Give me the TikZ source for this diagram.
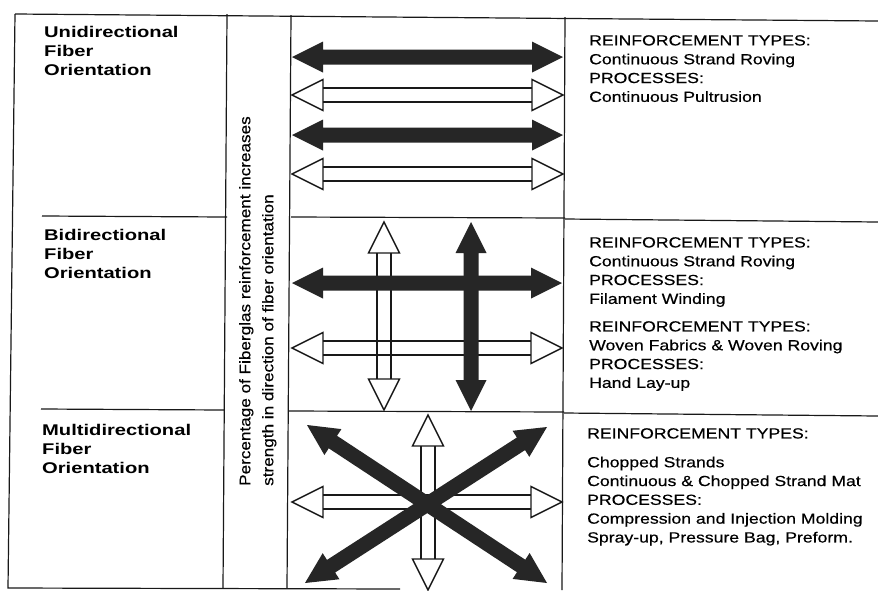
\documentclass[tikz,border=0pt]{standalone}
\usepackage{fontspec}
\setmainfont{Liberation Sans}
\newfontfamily\headfont[FakeStretch=1.3]{Liberation Sans}
\newfontfamily\infofont[FakeStretch=1.2,FakeBold=0.4]{Liberation Sans}
\newfontfamily\sidefont[FakeStretch=1.12,FakeBold=0.4]{Liberation Sans}
\usetikzlibrary{calc}

% double headed arrow, filled
\newcommand{\solidarrow}[2]{%
  \fill[solid arrow] (#1)
    -- ($(#1)!31pt!(#2)!15.5pt!90:(#2)$)
    -- ($(#1)!31pt!(#2)!7.5pt!90:(#2)$)
    -- ($(#2)!31pt!(#1)!7.5pt!-90:(#1)$)
    -- ($(#2)!31pt!(#1)!15.5pt!-90:(#1)$)
    -- (#2)
    -- ($(#2)!31pt!(#1)!15.5pt!90:(#1)$)
    -- ($(#2)!31pt!(#1)!7.5pt!90:(#1)$)
    -- ($(#1)!31pt!(#2)!7.5pt!-90:(#2)$)
    -- ($(#1)!31pt!(#2)!15.5pt!-90:(#2)$)
    -- cycle;}
% double headed arrow, open
\newcommand{\hollowarrow}[2]{%
  \draw[hollow arrow, fill=white] (#1)
    -- ($(#1)!31pt!(#2)!15.5pt!90:(#2)$)
    -- ($(#1)!31pt!(#2)!15.5pt!-90:(#2)$) -- cycle;
  \draw[hollow arrow, fill=white] (#2)
    -- ($(#2)!31pt!(#1)!15.5pt!90:(#1)$)
    -- ($(#2)!31pt!(#1)!15.5pt!-90:(#1)$) -- cycle;
  \draw[hollow arrow] ($(#1)!31pt!(#2)!7pt!90:(#2)$) -- ($(#2)!31pt!(#1)!7pt!-90:(#1)$);
  \draw[hollow arrow] ($(#1)!31pt!(#2)!7pt!-90:(#2)$) -- ($(#2)!31pt!(#1)!7pt!90:(#1)$);}

\begin{document}
\begin{tikzpicture}[x=1pt, y=-1pt,
    grid line/.style={line width=1.2pt, black!90},
    head text/.style={anchor=north west, inner sep=0pt, align=left,
      font=\headfont\bfseries\fontsize{15.5}{19}\selectfont},
    info text/.style={anchor=north west, inner sep=0pt, align=left,
      font=\infofont\fontsize{14.7}{18.8}\selectfont},
    side text/.style={anchor=north west, inner sep=0pt, align=left, rotate=90,
      font=\sidefont\fontsize{15.3}{23}\selectfont},
    solid arrow/.style={fill=black!85},
    hollow arrow/.style={line width=1.4pt, black!90, line join=miter}]
    \useasboundingbox[fill=white] (0,0) rectangle (878,590);

    % Draw the table frame
    \draw[grid line] (15,14) -- (878,21);
    \draw[grid line] (15,14) -- (8,588) -- (400,589);
    \draw[grid line] (227,14) -- (223,588);
    \draw[grid line] (291,15) -- (287,588);
    \draw[grid line] (565,17) -- (562,590);

    % Row dividers
    \draw[grid line] (42,216) -- (227,217);
    \draw[grid line] (41,409) -- (224,410);
    \draw[grid line] (291,217) -- (565,218);
    \draw[grid line] (289,411) -- (564,412);
    \draw[grid line] (565,219) -- (878,222);
    \draw[grid line] (564,413) -- (878,416);

    % Row headings
    \node[head text] (uni-head) at (44,26.5) {Unidirectional\\Fiber\\Orientation};
    \node[head text] (bi-head) at (44,229.5) {Bidirectional\\Fiber\\Orientation};
    \node[head text] (multi-head) at (42,424.5) {Multidirectional\\Fiber\\Orientation};

    % Side note
    \node[side text] (side-note) at (239,486)
      {Percentage of Fiberglas reinforcement increases\\strength in direction of fiber orientation};

    % Reinforcement types and processes
    \node[info text] (uni-info) at (589,35)
      {REINFORCEMENT TYPES:\\Continuous Strand Roving\\PROCESSES:\\Continuous Pultrusion};
    \node[info text] (bi-info-a) at (589,237)
      {REINFORCEMENT TYPES:\\Continuous Strand Roving\\PROCESSES:\\Filament Winding};
    \node[info text] (bi-info-b) at (589,321)
      {REINFORCEMENT TYPES:\\Woven Fabrics \& Woven Roving\\PROCESSES:\\Hand Lay-up};
    \node[info text] (multi-info) at (587,428)
      {REINFORCEMENT TYPES:\\[10pt]Chopped Strands\\Continuous \& Chopped Strand Mat\\PROCESSES:\\Compression and Injection Molding\\Spray-up, Pressure Bag, Preform.};

    % Arrow end points
    \coordinate (u1w) at (292,57);  \coordinate (u1e) at (563,57);
    \coordinate (u2w) at (292,95);  \coordinate (u2e) at (563,95);
    \coordinate (u3w) at (292,135); \coordinate (u3e) at (563,135);
    \coordinate (u4w) at (292,174); \coordinate (u4e) at (563,174);
    \coordinate (b1w) at (292,283); \coordinate (b1e) at (562,283);
    \coordinate (b2w) at (292,348); \coordinate (b2e) at (562,348);
    \coordinate (b3n) at (384,222); \coordinate (b3s) at (384,410);
    \coordinate (b4n) at (471,222); \coordinate (b4s) at (471,411);
    \coordinate (m1w) at (292,502); \coordinate (m1e) at (562,502);
    \coordinate (m2n) at (428,415); \coordinate (m2s) at (428,590);
    \coordinate (m3a) at (307,425); \coordinate (m3b) at (547,583);
    \coordinate (m4a) at (305,583); \coordinate (m4b) at (547,427);

    % Unidirectional
    \solidarrow{u1w}{u1e}
    \hollowarrow{u2w}{u2e}
    \solidarrow{u3w}{u3e}
    \hollowarrow{u4w}{u4e}

    % Bidirectional
    \hollowarrow{b2w}{b2e}
    \hollowarrow{b3n}{b3s}
    \solidarrow{b1w}{b1e}
    \solidarrow{b4n}{b4s}

    % Multidirectional
    \hollowarrow{m1w}{m1e}
    \hollowarrow{m2n}{m2s}
    \solidarrow{m3a}{m3b}
    \solidarrow{m4a}{m4b}
\end{tikzpicture}
\end{document}
